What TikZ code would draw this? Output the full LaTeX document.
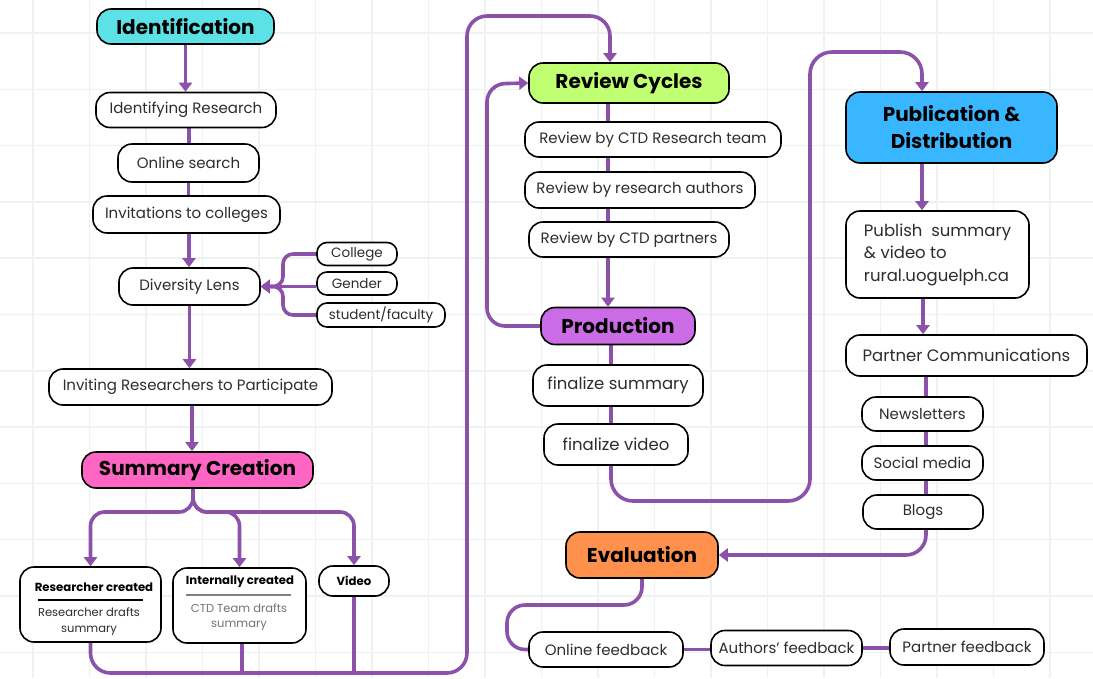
\documentclass[tikz,border=0pt]{standalone}
\usepackage{fontspec}
\setmainfont{Poppins}
\usetikzlibrary{arrows.meta,calc}
\definecolor{conn}{RGB}{140,82,170}
\definecolor{gridc}{RGB}{238,242,242}
\definecolor{txt}{RGB}{45,45,45}
\definecolor{cyanh}{HTML}{5CE1E6}
\definecolor{greenh}{HTML}{C1FF72}
\definecolor{pinkh}{HTML}{FF66C4}
\definecolor{purph}{HTML}{CB6CE6}
\definecolor{blueh}{HTML}{38B6FF}
\definecolor{orangeh}{HTML}{FF914D}
\pgfdeclarelayer{gridl}
\pgfdeclarelayer{lines}
\pgfsetlayers{gridl,lines,main}
\begin{document}
\begin{tikzpicture}[x=1pt,y=-1pt,
  box/.style={draw=black, line width=1.6pt, rounded corners=14pt, fill=white, inner sep=0pt, align=center, text=txt, font=\fontsize{15}{18}\selectfont},
  smallbox/.style={box, rounded corners=10pt, font=\fontsize{13.5}{15}\selectfont},
  head/.style={box, text=black, font=\fontsize{20}{27}\selectfont\bfseries},
  ln/.style={draw=conn, line width=3.6pt},
  arr/.style={ln, -{Triangle[width=13pt,length=9pt]}},
  gl/.style={draw=gridc, line width=1.5pt}
]
\useasboundingbox (0,0) rectangle (1093,678);
\begin{pgfonlayer}{gridl}
\fill[white] (0,0) rectangle (1093,678);
\foreach \i in {0,...,19} \draw[gl] (33+\i*56.5,0) -- (33+\i*56.5,678);
\foreach \i in {0,...,11} \draw[gl] (0,33+\i*56.3) -- (1093,33+\i*56.3);
\end{pgfonlayer}

% ---- left column
\node[head, fill=cyanh, minimum width=177pt, minimum height=35pt] (idn) at (185.5,26.5) {Identification};
\node[box, minimum width=180pt, minimum height=35pt] (idr) at (186,110) {Identifying Research};
\node[box, minimum width=141pt, minimum height=38pt] (os) at (188.5,163) {Online search};
\node[box, minimum width=187pt, minimum height=37pt] (inv) at (186.5,214.5) {Invitations to colleges};
\node[box, minimum width=141pt, minimum height=37pt] (dl) at (189.5,286.5) {Diversity Lens};
\node[smallbox, minimum width=80pt, minimum height=23pt] (col) at (357,254) {College};
\node[smallbox, minimum width=80pt, minimum height=23pt] (gen) at (357,283.5) {Gender};
\node[smallbox, minimum width=128pt, minimum height=24pt] (sf) at (381,315) {student/faculty};
\node[box, minimum width=283pt, minimum height=36pt] (irp) at (190.5,387) {Inviting Researchers to Participate};
\node[head, fill=pinkh, minimum width=231pt, minimum height=36pt] (sc) at (197.5,470) {Summary Creation};
\node[box, minimum width=141pt, minimum height=75pt] (rc) at (90.5,604.5) {};
\node[box, minimum width=133pt, minimum height=75pt] (ic) at (239.5,605.5) {};
\node[box, minimum width=70pt, minimum height=30pt, text=black, font=\fontsize{11.7}{13}\selectfont\bfseries] (vid) at (354,581) {Video};
\node[text=black, font=\fontsize{11.7}{13}\selectfont\bfseries] (rct) at (94,587) {Researcher created};
\draw[line width=1.1pt, black] (38,600) -- (143,600);
\node[text=txt, align=center, font=\fontsize{11.5}{15.5}\selectfont] (rcb) at (89,621.5) {Researcher drafts\\summary};
\node[text=black, font=\fontsize{11.7}{13}\selectfont\bfseries] (ict) at (240,582) {Internally created};
\draw[line width=1.1pt, gray] (186,595) -- (291,595);
\node[text=gray!90!black, align=center, font=\fontsize{11.5}{15.5}\selectfont] (icb) at (239,617) {CTD Team drafts\\summary};

% ---- middle column
\node[head, fill=greenh, minimum width=200pt, minimum height=40pt] (rv) at (629,83) {Review Cycles};
\node[box, minimum width=256pt, minimum height=35pt] (r1) at (653,139.5) {Review by CTD Research team};
\node[box, minimum width=230pt, minimum height=36pt] (r2) at (640,190) {Review by research authors};
\node[box, minimum width=200pt, minimum height=35pt] (r3) at (629,239.5) {Review by CTD partners};
\node[head, fill=purph, minimum width=154pt, minimum height=37pt] (pr) at (618,326) {Production};
\node[box, minimum width=170pt, minimum height=41pt, font=\fontsize{16.5}{19}\selectfont] (fs) at (618,385.5) {finalize summary};
\node[box, minimum width=144pt, minimum height=41pt, font=\fontsize{16.5}{19}\selectfont] (fv) at (616,444.5) {finalize video};
\node[head, fill=orangeh, minimum width=152pt, minimum height=46pt] (ev) at (642,555) {Evaluation};
\node[box, minimum width=154pt, minimum height=35pt] (of) at (606,649.5) {Online feedback};
\node[box, minimum width=151pt, minimum height=35pt] (af) at (786.5,648) {Authors’ feedback};
\node[box, minimum width=154pt, minimum height=36pt] (pf) at (967,647) {Partner feedback};

% ---- right column
\node[head, fill=blueh, minimum width=211pt, minimum height=71pt] (pub) at (951.5,127.5) {Publication \&\\Distribution};
\node[box, minimum width=183pt, minimum height=87pt, align=left, font=\fontsize{16.5}{22.5}\selectfont] (pubs) at (937.5,254.5) {Publish\ \ summary\\\& video to\\rural.uoguelph.ca};
\node[box, minimum width=241pt, minimum height=41pt, font=\fontsize{16.5}{19}\selectfont] (pc) at (966.5,355.5) {Partner Communications};
\node[box, minimum width=121pt, minimum height=34pt] (nl) at (922.5,414) {Newsletters};
\node[box, minimum width=121pt, minimum height=34pt] (sm) at (922.5,463) {Social media};
\node[box, minimum width=120pt, minimum height=34pt] (bl) at (923,512) {Blogs};

% ---- connectors
\begin{pgfonlayer}{lines}
\coordinate (sj) at (193,512);
\coordinate (by) at (0,673);
\coordinate (xr) at (608,0);
\coordinate (xp) at (611,0);
\coordinate (xq) at (922,0);
\coordinate (xc) at (926,0);
\draw[arr] (idn.south) -- (idn.south |- idr.north);
\draw[ln] ([xshift=3pt]idr.south) -- ([xshift=3pt]idr.south |- os.north);
\draw[ln] (os.south) -- (os.south |- inv.north);
\draw[arr] ([xshift=2.5pt]inv.south) -- ([xshift=2.5pt]inv.south |- dl.north);
\draw[arr] (dl.south) -- (dl.south |- irp.north);
\draw[arr] ([xshift=1.5pt]irp.south) -- ([xshift=1.5pt]irp.south |- sc.north);
\draw[arr, rounded corners=10pt] (col.west) -| (283,286.5) -- (dl.east);
\draw[arr] (gen.west |- dl.east) -- (dl.east);
\draw[arr, rounded corners=10pt] (sf.west) -| (283,286.5) -- (dl.east);
\draw[arr, rounded corners=14pt] ([xshift=-4.5pt]sc.south) -- ([xshift=-4.5pt]sc.south |- sj) -| (rc.north);
\draw[arr, rounded corners=14pt] ([xshift=-4.5pt]sc.south) -- ([xshift=-4.5pt]sc.south |- sj) -| (ic.north);
\draw[arr, rounded corners=14pt] ([xshift=-4.5pt]sc.south) -- ([xshift=-4.5pt]sc.south |- sj) -| (vid.north);
\draw[arr, rounded corners=20pt] (rc.south) |- (467,673) |- (610,16) -- ([xshift=-19pt]rv.north);
\draw[ln] ([xshift=2.5pt]ic.south) -- ([xshift=2.5pt]ic.south |- by);
\draw[ln] (vid.south) -- (vid.south |- by);
\draw[ln] (rv.south -| xr) -- (r1.north -| xr);
\draw[ln] (r1.south -| xr) -- (r2.north -| xr);
\draw[ln] (r2.south -| xr) -- (r3.north -| xr);
\draw[arr] (r3.south -| xr) -- (pr.north -| xr);
\draw[arr, rounded corners=18pt] (pr.west) -| (487,84) -- (rv.west);
\draw[ln] (pr.south -| xp) -- (fs.north -| xp);
\draw[ln] (fs.south -| xp) -- (fv.north -| xp);
\draw[arr, rounded corners=22pt] (fv.south -| xp) |- (810,501) |- (922,52) -- (pub.north -| xq);
\draw[arr] (pub.south -| xq) -- (pubs.north -| xq);
\draw[arr] ([xshift=-14.5pt]pubs.south) -- ([xshift=-14.5pt]pubs.south |- pc.north);
\draw[ln] (pc.south -| xc) -- (nl.north -| xc);
\draw[ln] (nl.south -| xc) -- (sm.north -| xc);
\draw[ln] (sm.south -| xc) -- (bl.north -| xc);
\draw[arr, rounded corners=20pt] (bl.south -| xc) |- (ev.east);
\draw[ln, rounded corners=18pt] (ev.south) |- (507,605) |- (of.west);
\draw[ln] (of.east) -- (of.east -| af.west);
\draw[ln] (af.east) -- (af.east -| pf.west);
\end{pgfonlayer}
\end{tikzpicture}
\end{document}
